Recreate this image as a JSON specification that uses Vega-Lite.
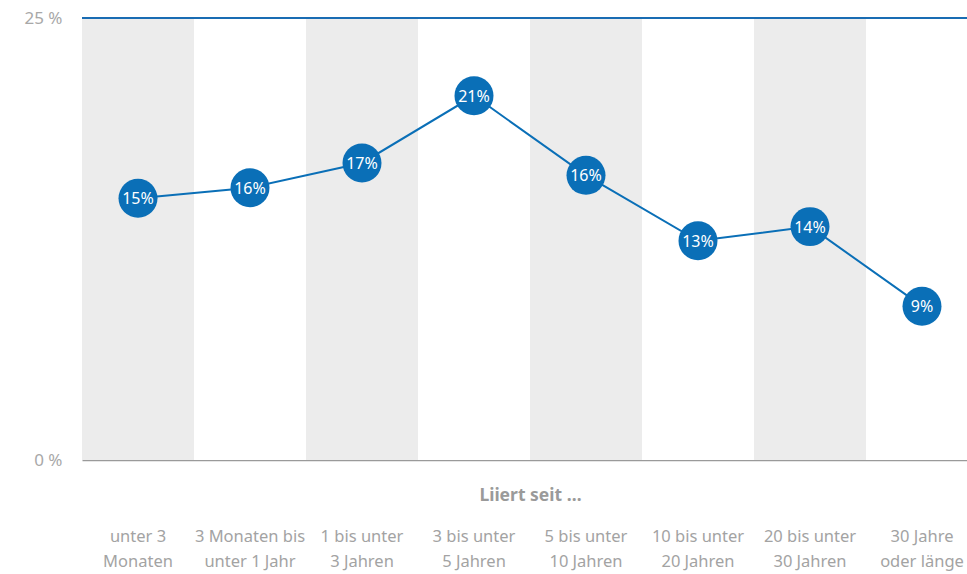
{
  "$schema": "https://vega.github.io/schema/vega-lite/v6.json",
  "width": 896,
  "height": 442,
  "autosize": {"type": "none"},
  "padding": {"left": 82, "top": 18, "right": 0, "bottom": 114},
  "background": "white",
  "config": {"view": {"stroke": null}, "font": "Noto Sans"},
  "data": {
    "values": [
      {"cat": "unter 3|Monaten", "value": 14.8, "label": "15%"},
      {"cat": "3 Monaten bis|unter 1 Jahr", "value": 15.4, "label": "16%"},
      {"cat": "1 bis unter|3 Jahren", "value": 16.8, "label": "17%"},
      {"cat": "3 bis unter|5 Jahren", "value": 20.6, "label": "21%"},
      {"cat": "5 bis unter|10 Jahren", "value": 16.1, "label": "16%"},
      {"cat": "10 bis unter|20 Jahren", "value": 12.4, "label": "13%"},
      {"cat": "20 bis unter|30 Jahren", "value": 13.2, "label": "14%"},
      {"cat": "30 Jahre|oder länge", "value": 8.7, "label": "9%"}
    ]
  },
  "layer": [
    {
      "transform": [
        {"window": [{"op": "row_number", "as": "idx"}]}
      ],
      "mark": {"type": "bar"},
      "encoding": {
        "x": {
          "field": "cat", "type": "nominal", "sort": null,
          "scale": {"paddingInner": 0, "paddingOuter": 0},
          "axis": {
            "labelExpr": "split(datum.label, '|')",
            "labelAngle": 0,
            "labelFontSize": 16.5,
            "labelColor": "#a3a3a3",
            "labelLineHeight": 25,
            "labelBaseline": "top",
            "labelPadding": 68,
            "labelLimit": 0,
            "ticks": false,
            "domainColor": "#9a9a9a",
            "domainWidth": 1.5,
            "title": "Liiert seit …",
            "titleFontSize": 17.5,
            "titleFontWeight": "bold",
            "titleColor": "#9a9a9a",
            "titleY": 35,
            "titleX": 448,
            "titleAlign": "center",
            "titleAnchor": null,
            "titleBaseline": "middle"
          }
        },
        "y": {"datum": 25, "type": "quantitative"},
        "y2": {"datum": 0},
        "color": {
          "condition": {"test": "datum.idx % 2 == 1", "value": "#ececec"},
          "value": "white"
        }
      }
    },
    {
      "mark": {"type": "rule", "color": "#1a6db3", "strokeWidth": 1.5},
      "encoding": {"y": {"datum": 25, "type": "quantitative"}}
    },
    {
      "mark": {"type": "line", "color": "#0a6fb7", "strokeWidth": 2},
      "encoding": {
        "x": {"field": "cat", "type": "nominal", "sort": null},
        "y": {
          "field": "value", "type": "quantitative",
          "scale": {"domain": [0, 25], "nice": false},
          "axis": {
            "values": [0, 25],
            "labelExpr": "datum.value + ' %'",
            "labelFontSize": 17,
            "labelColor": "#a8a8a8",
            "labelPadding": 20,
            "ticks": false,
            "domain": false,
            "grid": false,
            "title": null
          }
        }
      }
    },
    {
      "mark": {"type": "point", "filled": true, "opacity": 1, "color": "#0a6fb7", "size": 1520, "shape": "circle"},
      "encoding": {
        "x": {"field": "cat", "type": "nominal", "sort": null},
        "y": {"field": "value", "type": "quantitative"}
      }
    },
    {
      "mark": {"type": "text", "color": "white", "fontSize": 16, "baseline": "middle", "align": "center", "dy": 1},
      "encoding": {
        "x": {"field": "cat", "type": "nominal", "sort": null},
        "y": {"field": "value", "type": "quantitative"},
        "text": {"field": "label"}
      }
    }
  ]
}
